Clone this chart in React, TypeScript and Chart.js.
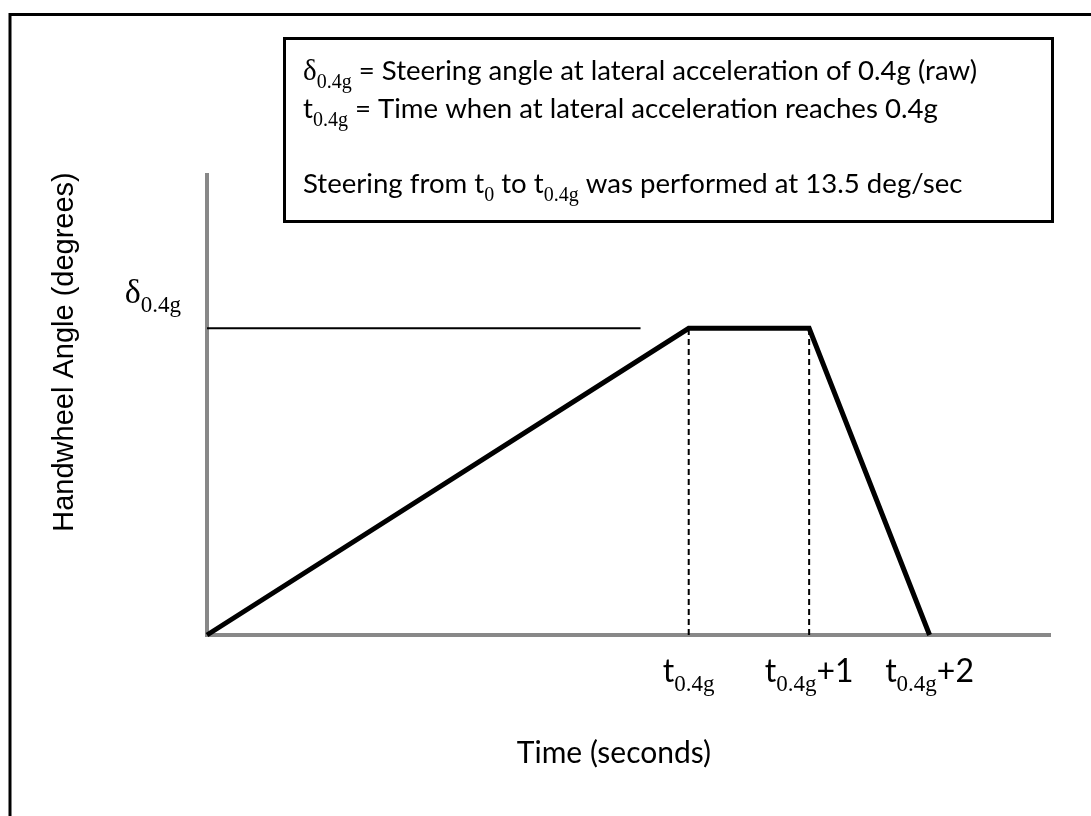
import React, { useEffect, useRef } from 'react';
import { Chart, registerables } from 'chart.js';

Chart.register(...registerables);

// ---- data ----
const timeSeconds = [0, 4, 5, 6];
const handwheelAngle = [0, 54, 54, 0];
const referenceLineX = [0, 3.6];
const referenceLineY = [54, 54];
const dashedLineX = [4, 5];
const dashedLineTop = [54, 54];
const xMin = 0;
const xMax = 7;
const yMin = 0;
const yMax = 81;

const xTickValues = [4, 5, 6];
const xTickMain = ['t', 't', 't'];
const xTickSub = ['0.4g', '0.4g', '0.4g'];
const xTickSuffix = ['', '+1', '+2'];

const yTickValue = 54;
const yTickMain = 'δ';
const yTickSub = '0.4g';

const xTitle = 'Time (seconds)';
const yTitle = 'Handwheel Angle (degrees)';

const noteLine1 = [
  { t: 'δ', k: 'greek' },
  { t: '0.4g', k: 'sub' },
  { t: ' = Steering angle at lateral acceleration of 0.4g (raw)', k: 'main' },
];
const noteLine2 = [
  { t: 't', k: 'main' },
  { t: '0.4g', k: 'sub' },
  { t: ' = Time when at lateral acceleration reaches 0.4g', k: 'main' },
];
const noteLine3 = [
  { t: 'Steering from t', k: 'main' },
  { t: '0', k: 'sub' },
  { t: ' to t', k: 'main' },
  { t: '0.4g', k: 'sub' },
  { t: ' was performed at 13.5 deg/sec', k: 'main' },
];

type Seg = { text: string; font: string; dy: number };

function drawRich(ctx: CanvasRenderingContext2D, x: number, y: number, segs: Seg[], align: 'left' | 'center' | 'right') {
  let total = 0;
  const widths = segs.map((s) => {
    ctx.font = s.font;
    const w = ctx.measureText(s.text).width;
    total += w;
    return w;
  });
  let cx = x;
  if (align === 'center') cx = x - total / 2;
  if (align === 'right') cx = x - total;
  ctx.textAlign = 'left';
  ctx.textBaseline = 'alphabetic';
  segs.forEach((s, i) => {
    ctx.font = s.font;
    ctx.fillText(s.text, cx, y + s.dy);
    cx += widths[i];
  });
}

const NOTE_MAIN = '27.6px Lato';
const NOTE_SUB = '20px "Liberation Serif"';
const NOTE_GREEK = '29px "Liberation Serif"';

function noteSegs(line: { t: string; k: string }[]): Seg[] {
  return line.map((p) => {
    if (p.k === 'greek') return { text: p.t, font: NOTE_GREEK, dy: 0 };
    if (p.k === 'sub') return { text: p.t, font: NOTE_SUB, dy: 8 };
    return { text: p.t, font: NOTE_MAIN, dy: 0 };
  });
}

const overlayPlugin = {
  id: 'overlay',
  afterDraw(chart: any) {
    const ctx: CanvasRenderingContext2D = chart.ctx;
    const xs = chart.scales.x;
    const ys = chart.scales.y;
    ctx.save();
    ctx.fillStyle = '#000';
    ctx.strokeStyle = '#000';

    // outer frame
    ctx.lineWidth = 3;
    ctx.beginPath();
    ctx.moveTo(10, 816);
    ctx.lineTo(10, 14.5);
    ctx.lineTo(1091, 14.5);
    ctx.stroke();

    // note box
    ctx.lineWidth = 3;
    ctx.strokeRect(284.5, 38.5, 768, 183);
    drawRich(ctx, 303, 80, noteSegs(noteLine1), 'left');
    drawRich(ctx, 303, 118, noteSegs(noteLine2), 'left');
    drawRich(ctx, 303, 193, noteSegs(noteLine3), 'left');

    // x tick labels
    xTickValues.forEach((v, i) => {
      const px = xs.getPixelForValue(v);
      const segs: Seg[] = [
        { text: xTickMain[i], font: '32px Lato', dy: 0 },
        { text: xTickSub[i], font: '23px "Liberation Serif"', dy: 9 },
      ];
      if (xTickSuffix[i]) segs.push({ text: xTickSuffix[i], font: '32px Lato', dy: 0 });
      drawRich(ctx, px, xs.bottom + 47, segs, 'center');
    });

    // y tick label
    const py = ys.getPixelForValue(yTickValue);
    drawRich(
      ctx,
      181,
      py - 25,
      [
        { text: yTickMain, font: '34px "Liberation Serif"', dy: 0 },
        { text: yTickSub, font: '23px "Liberation Serif"', dy: 9 },
      ],
      'right'
    );

    // x title
    drawRich(ctx, 614, 763, [{ text: xTitle, font: '30px Lato', dy: 0 }], 'center');

    // y title
    ctx.save();
    ctx.translate(65, 352);
    ctx.rotate(-Math.PI / 2);
    ctx.font = '29px "Liberation Sans"';
    ctx.textAlign = 'center';
    ctx.textBaseline = 'middle';
    ctx.fillText(yTitle, 0, 0);
    ctx.restore();

    ctx.restore();
  },
};

export default function App() {
  const ref = useRef<HTMLCanvasElement | null>(null);
  useEffect(() => {
    if (!ref.current) return;
    const datasets: any[] = [
      {
        label: 'Handwheel angle',
        data: timeSeconds.map((x, i) => ({ x, y: handwheelAngle[i] })),
        borderColor: '#000',
        borderWidth: 5,
        pointRadius: 0,
        tension: 0,
        clip: false,
      },
      {
        label: 'Reference',
        data: referenceLineX.map((x, i) => ({ x, y: referenceLineY[i] })),
        borderColor: '#000',
        borderWidth: 2,
        pointRadius: 0,
        clip: false,
      },
      ...dashedLineX.map((x, i) => ({
        label: 'Dashed ' + i,
        data: [
          { x, y: 0 },
          { x, y: dashedLineTop[i] },
        ],
        borderColor: '#000',
        borderWidth: 2,
        borderDash: [6, 4],
        pointRadius: 0,
        clip: false,
      })),
    ];
    const chart = new Chart(ref.current, {
      type: 'line',
      data: { datasets },
      options: {
        animation: false,
        responsive: false,
        maintainAspectRatio: false,
        layout: { padding: { left: 207, right: 41, top: 175, bottom: 181 } },
        plugins: { legend: { display: false }, tooltip: { enabled: false } },
        scales: {
          x: {
            type: 'linear',
            min: xMin,
            max: xMax,
            grid: { display: false, drawTicks: false },
            ticks: { display: false },
            border: { display: true, color: '#888888', width: 4 },
          },
          y: {
            type: 'linear',
            min: yMin,
            max: yMax,
            grid: { display: false, drawTicks: false },
            ticks: { display: false },
            border: { display: true, color: '#888888', width: 4 },
          },
        },
      },
      plugins: [overlayPlugin],
    });
    return () => chart.destroy();
  }, []);
  return (
    <div style={{ position: 'absolute', left: 0, top: 0, width: 1091, height: 816, background: '#fff' }}>
      <canvas ref={ref} width={1091} height={816} style={{ display: 'block', width: 1091, height: 816 }} />
    </div>
  );
}
